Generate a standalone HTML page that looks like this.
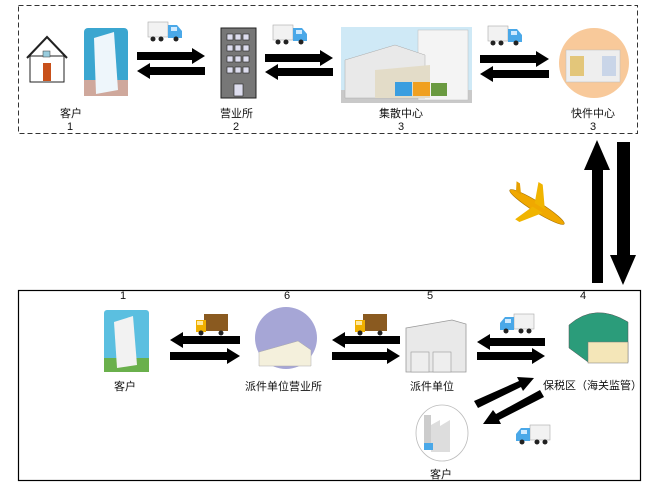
<!DOCTYPE html>
<html><head><meta charset="utf-8"><style>
body{margin:0;background:#fff;width:664px;height:487px;overflow:hidden}
text{font-family:"Liberation Sans","Noto Sans CJK SC",sans-serif;font-size:11px;fill:#111}
</style></head><body>
<svg width="664" height="487" viewBox="0 0 664 487" xmlns="http://www.w3.org/2000/svg">
<defs>
<g id="truck">
<rect x="0" y="0" width="20" height="15" fill="#f2f2f2" stroke="#aaa" stroke-width="0.6"/>
<path d="M20 3 h9 l5 6 v7 h-14z" fill="#4aa8e8"/>
<rect x="23" y="5" width="6" height="4" fill="#cfeaff"/>
<circle cx="5" cy="17" r="2.5" fill="#222"/><circle cx="13" cy="17" r="2.5" fill="#222"/><circle cx="28" cy="17" r="2.5" fill="#222"/>
</g>
<g id="ytruck">
<rect x="8" y="0" width="24" height="17" fill="#8a5a20"/>
<path d="M0 6 h10 v12 h-10z" fill="#f0b000"/>
<rect x="1" y="7" width="6" height="4" fill="#ffe9a0"/>
<circle cx="5" cy="19" r="2.5" fill="#222"/><circle cx="25" cy="19" r="2.5" fill="#222"/>
</g>
</defs>
<rect x="18.5" y="5.5" width="619" height="128" fill="none" stroke="#333" stroke-dasharray="5,3"/>
<rect x="18.5" y="290.5" width="622" height="190" fill="none" stroke="#000" stroke-width="1.2"/>

<path d="M27 58 L47 37 L67 58" fill="none" stroke="#222" stroke-width="2"/>
<rect x="30" y="56" width="34" height="26" fill="#fff" stroke="#222" stroke-width="1"/>
<rect x="43" y="63" width="8" height="18" fill="#c8501a"/>
<rect x="43" y="51" width="7" height="6" fill="#9cd" stroke="#333" stroke-width="0.5"/>
<rect x="84" y="28" width="44" height="68" rx="4" fill="#3ba6d0"/>
<rect x="84" y="80" width="44" height="16" fill="#cfa89c"/>
<path d="M94 38 L114 32 L118 90 L96 94z" fill="#eef6fb"/>
<text x="60" y="117">客户</text><text x="67" y="130" font-size="10">1</text>

<use href="#truck" x="148" y="22"/>
<path d="M137 52 H192 V48 L205 56 L192 64 V60 H137z"/>
<path d="M205 67 H150 V63 L137 71 L150 79 V75 H205z"/>
<rect x="221" y="28" width="35" height="70" fill="#777" stroke="#222"/>
<g fill="#dde" stroke="#222" stroke-width="0.6">
<rect x="227" y="34" width="6" height="6"/><rect x="235" y="34" width="6" height="6"/><rect x="243" y="34" width="6" height="6"/>
<rect x="227" y="45" width="6" height="6"/><rect x="235" y="45" width="6" height="6"/><rect x="243" y="45" width="6" height="6"/>
<rect x="227" y="56" width="6" height="6"/><rect x="235" y="56" width="6" height="6"/><rect x="243" y="56" width="6" height="6"/>
<rect x="227" y="67" width="6" height="6"/><rect x="235" y="67" width="6" height="6"/><rect x="243" y="67" width="6" height="6"/>
<rect x="234" y="84" width="9" height="12"/></g>
<text x="220" y="117">营业所</text><text x="233" y="130" font-size="10">2</text>

<use href="#truck" x="273" y="25"/>
<path d="M265 54 H320 V50 L333 58 L320 66 V62 H265z"/>
<path d="M333 68 H278 V64 L265 72 L278 80 V76 H333z"/>

<rect x="341" y="27" width="131" height="76" fill="#cfe9f6"/>
<rect x="341" y="90" width="131" height="13" fill="#c9c9c9"/>
<rect x="418" y="30" width="50" height="70" fill="#f4f4f4" stroke="#bbb" stroke-width="0.5"/>
<path d="M345 60 L395 45 L425 55 V98 H345z" fill="#e9e9e9" stroke="#aaa" stroke-width="0.5"/>
<path d="M375 70 L430 65 V98 H375z" fill="#e3dcc8"/>
<rect x="395" y="82" width="17" height="14" fill="#3a9ee0"/>
<rect x="413" y="82" width="17" height="14" fill="#f0a020"/>
<rect x="431" y="83" width="16" height="13" fill="#6a9a40"/>
<text x="379" y="117">集散中心</text><text x="398" y="130" font-size="10">3</text>

<use href="#truck" x="488" y="26"/>
<path d="M480 55 H536 V51 L549 59 L536 67 V63 H480z"/>
<path d="M549 70 H493 V66 L480 74 L493 82 V78 H549z"/>

<circle cx="594" cy="63" r="35" fill="#f8c99a"/>
<rect x="566" y="50" width="54" height="32" fill="#eee" stroke="#bbb" stroke-width="0.5"/>
<rect x="570" y="56" width="14" height="20" fill="#e3c67a"/>
<rect x="602" y="56" width="14" height="20" fill="#c9d5e8"/>
<text x="571" y="117">快件中心</text><text x="590" y="130" font-size="10">3</text>

<path d="M592 283 V170 H584 L597 140 L610 170 H603 V283z"/>
<path d="M617 142 H630 V255 H636 L623 285 L610 255 H617z"/>
<g transform="translate(537,207) rotate(32)">
<ellipse cx="0" cy="0" rx="32" ry="5" fill="#f0a800" stroke="#a67000" stroke-width="0.6"/>
<path d="M-4 -2 L-12 -22 L-7 -22 L8 -2z M-4 2 L-12 22 L-7 22 L8 2z" fill="#f0b400"/>
<path d="M-26 -2 L-31 -11 L-27 -11 L-20 -2z" fill="#e6a000"/>
</g>

<!-- bottom -->
<text x="120" y="299" font-size="10">1</text>
<text x="284" y="299" font-size="10">6</text>
<text x="427" y="299" font-size="10">5</text>
<text x="580" y="299" font-size="10">4</text>

<rect x="104" y="310" width="45" height="62" rx="3" fill="#5bbfe0"/>
<rect x="104" y="358" width="45" height="14" fill="#6ab04c"/>
<path d="M114 322 L133 316 L137 365 L117 368z" fill="#f2f2f2"/>
<text x="114" y="390">客户</text>

<use href="#ytruck" x="196" y="314"/>
<path d="M240 336 H183 V332 L170 340 L183 348 V344 H240z"/>
<path d="M170 352 H227 V348 L240 356 L227 364 V360 H170z"/>

<ellipse cx="286" cy="338" rx="31" ry="31" fill="#a6a6d6"/>
<path d="M259 352 L298 341 L311 350 V366 H259z" fill="#f4f0dc" stroke="#aaa" stroke-width="0.5"/>
<text x="245" y="390">派件单位营业所</text>

<use href="#ytruck" x="355" y="314"/>
<path d="M400 336 H345 V332 L332 340 L345 348 V344 H400z"/>
<path d="M332 352 H387 V348 L400 356 L387 364 V360 H332z"/>

<path d="M406 328 L452 320 L466 324 V372 H406z" fill="#e9e9e9" stroke="#999" stroke-width="0.8"/>
<rect x="411" y="352" width="18" height="20" fill="#eee" stroke="#999" stroke-width="0.6"/>
<rect x="433" y="352" width="18" height="20" fill="#eee" stroke="#999" stroke-width="0.6"/>
<text x="410" y="390">派件单位</text>

<g transform="translate(534,314) scale(-1,1)"><use href="#truck"/></g>
<path d="M545 338 H490 V334 L477 342 L490 350 V346 H545z"/>
<path d="M477 352 H532 V348 L545 356 L532 364 V360 H477z"/>

<path d="M569 325 Q595 302 628 322 V362 H588 L569 348z" fill="#2b9c7a" stroke="#555" stroke-width="0.5"/>
<rect x="588" y="342" width="40" height="21" fill="#f4e6b8" stroke="#777" stroke-width="0.5"/>
<text x="543" y="389">保税区（海关监管）</text>

<path d="M474 401 L519 381 L517 377 L534 378 L523 391 L521 387 L478 408z"/>
<path d="M544 397 L499 420 L501 424 L483 424 L493 410 L496 414 L540 390z"/>

<ellipse cx="442" cy="433" rx="26" ry="28" fill="#fff" stroke="#bbb" stroke-width="0.8"/>
<rect x="424" y="415" width="7" height="33" fill="#ccc"/>
<path d="M431 452 V425 L440 420 V426 L450 420 V452z" fill="#ddd"/>
<rect x="424" y="443" width="9" height="7" fill="#4aa8e8"/>
<text x="430" y="478">客户</text>

<g transform="translate(550,425) scale(-1,1)"><use href="#truck"/></g>
</svg>
</body></html>
